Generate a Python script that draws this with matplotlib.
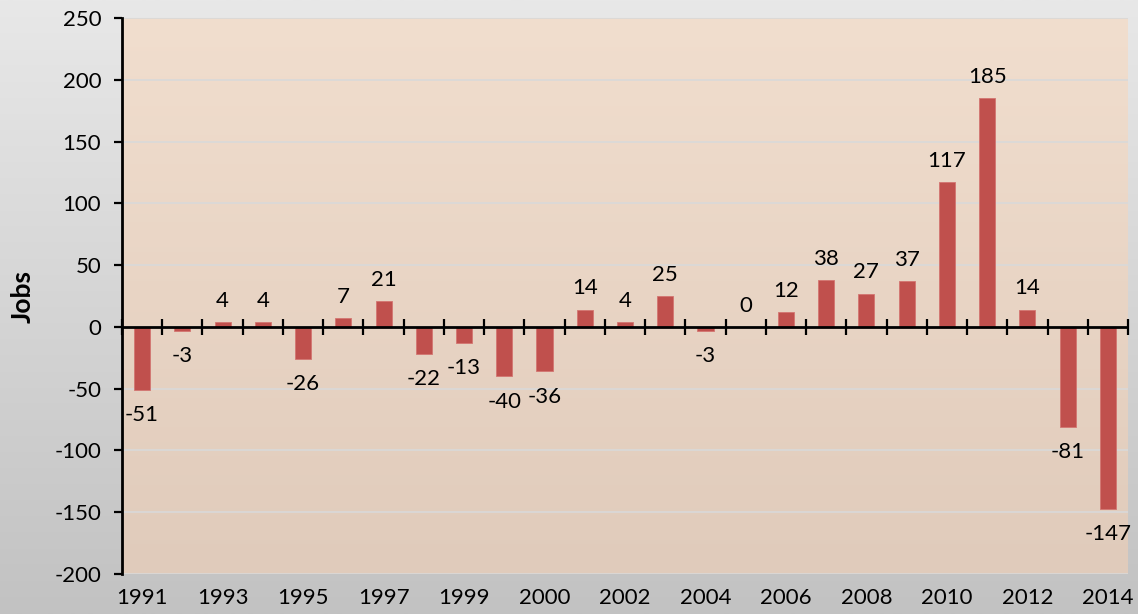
import numpy as np
import matplotlib.pyplot as plt
import matplotlib.colors as mcolors

# Job change per year
years = ['1991', '1992', '1993', '1994', '1995', '1996', '1997', '1998', '1999', '',
         '2000', '2001', '2002', '2003', '2004', '2005', '2006', '2007', '2008', '2009',
         '2010', '2011', '2012', '2013', '2014']
jobs = [-51, -3, 4, 4, -26, 7, 21, -22, -13, -40,
        -36, 14, 4, 25, -3, 0, 12, 38, 27, 37,
        117, 185, 14, -81, -147]

plt.rcParams['font.family'] = ['Lato', 'DejaVu Sans']
plt.rcParams['axes.unicode_minus'] = False

fig = plt.figure(figsize=(11.38, 6.14), dpi=100)

# Gray gradient behind everything
bg = fig.add_axes([0, 0, 1, 1], zorder=-10)
grad = np.linspace(0, 1, 256).reshape(-1, 1)
bg_cmap = mcolors.LinearSegmentedColormap.from_list('bg', ['#e8e8e8', '#c2c2c2'])
bg.imshow(grad, aspect='auto', cmap=bg_cmap, extent=[0, 1, 0, 1], origin='upper')
bg.axis('off')

ax = fig.add_axes([0.1072, 0.0651, 0.884, 0.9056])
ax.set_facecolor('none')

x = np.arange(len(jobs))
xmin, xmax = -0.5, len(jobs) - 0.5
ymin, ymax = -200, 250

# Peach gradient plot area
pa_cmap = mcolors.LinearSegmentedColormap.from_list('pa', ['#f1dece', '#e0cbbb'])
ax.imshow(grad, aspect='auto', cmap=pa_cmap, extent=[xmin, xmax, ymin, ymax],
          origin='upper', zorder=0)

ax.set_yticks(np.arange(-200, 251, 50))
ax.yaxis.grid(True, color='#d9d9d9', linewidth=1.2, zorder=1)
ax.set_axisbelow(True)

ax.bar(x, jobs, width=0.4, color='#c0504d', edgecolor='#d37571', linewidth=0.6, zorder=3)

# Zero axis with crossing tick marks at category boundaries
ax.axhline(0, color='black', linewidth=2, zorder=4)
ax.plot(np.arange(len(jobs) + 1) - 0.5, np.zeros(len(jobs) + 1), linestyle='none',
        marker='|', markersize=11, markeredgewidth=1.6, color='black', zorder=4,
        clip_on=False)

for xi, v in zip(x, jobs):
    if v >= 0:
        ax.annotate(str(v), (xi, v), xytext=(0, 8), textcoords='offset points',
                    ha='center', va='bottom', fontsize=16, zorder=5)
    else:
        ax.annotate(str(v), (xi, v), xytext=(0, -11), textcoords='offset points',
                    ha='center', va='top', fontsize=16, zorder=5)

ax.set_xlim(xmin, xmax)
ax.set_ylim(ymin, ymax)

ax.set_xticks(x[::2])
ax.set_xticklabels([years[i] for i in x[::2]], fontsize=16)
ax.tick_params(axis='x', length=0, pad=10)
ax.tick_params(axis='y', length=6, width=1.6, direction='out', labelsize=16, pad=9)

for s in ['top', 'right', 'bottom']:
    ax.spines[s].set_visible(False)
ax.spines['left'].set_linewidth(2)

ax.set_ylabel('Jobs', fontsize=19, fontweight='bold', labelpad=14)

fig.savefig('out.png', dpi=100)
